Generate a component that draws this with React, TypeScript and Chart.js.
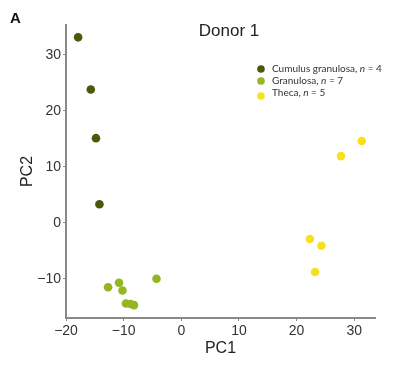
import React, { useEffect, useRef } from "react";
import { Chart, registerables } from "chart.js";

Chart.register(...registerables);

const cumulusPoints = [
  { x: -17.9, y: 33.1 },
  { x: -15.7, y: 23.8 },
  { x: -14.8, y: 15.1 },
  { x: -14.2, y: 3.3 },
];
const granulosaPoints = [
  { x: -12.7, y: -11.5 },
  { x: -10.8, y: -10.7 },
  { x: -10.2, y: -12.1 },
  { x: -9.6, y: -14.4 },
  { x: -8.8, y: -14.5 },
  { x: -8.2, y: -14.7 },
  { x: -4.3, y: -10.0 },
];
const thecaPoints = [
  { x: 31.3, y: 14.6 },
  { x: 27.7, y: 11.9 },
  { x: 22.3, y: -2.9 },
  { x: 24.3, y: -4.1 },
  { x: 23.2, y: -8.8 },
];
const xTicks = [-20, -10, 0, 10, 20, 30];
const yTicks = [-10, 0, 10, 20, 30];
const legendLabels = [
  { pre: "Cumulus granulosa, ", n: "4" },
  { pre: "Granulosa, ", n: "7" },
  { pre: "Theca, ", n: "5" },
];
const colors = ["#4a5a0c", "#93b622", "#f8e01c"];
const titleText = "Donor 1";
const panelLabel = "A";

const fmt = (v: number) => (v < 0 ? "\u2212" + Math.abs(v) : String(v));

const overlay = {
  id: "overlay",
  afterDraw(chart: any) {
    const ctx = chart.ctx;
    ctx.save();
    ctx.fillStyle = "#111";
    ctx.font = "bold 15px 'Liberation Sans', Arial, sans-serif";
    ctx.textBaseline = "middle";
    ctx.textAlign = "left";
    ctx.fillText(panelLabel, 10, 19);
    ctx.font = "17px 'Liberation Sans', Arial, sans-serif";
    ctx.textAlign = "center";
    ctx.fillStyle = "#222";
    ctx.fillText(titleText, 229, 31);
    // legend
    const rows = [69, 81, 93];
    ctx.textAlign = "left";
    legendLabels.forEach((l, i) => {
      const y = rows[i];
      ctx.beginPath();
      ctx.fillStyle = colors[i];
      ctx.arc(261, y + (i === 2 ? 3 : 0), 3.8, 0, Math.PI * 2);
      ctx.fill();
      ctx.fillStyle = "#333";
      let x = 272;
      ctx.font = "10px Lato, 'Open Sans', sans-serif";
      ctx.fillText(l.pre, x, y);
      x += ctx.measureText(l.pre).width;
      ctx.font = "italic 10px Lato, 'Open Sans', sans-serif";
      ctx.fillText("n", x, y);
      x += ctx.measureText("n").width;
      ctx.font = "10px Lato, 'Open Sans', sans-serif";
      ctx.fillText(" = " + l.n, x, y);
    });
    ctx.restore();
  },
};

export default function App() {
  const ref = useRef<HTMLCanvasElement>(null);
  useEffect(() => {
    if (!ref.current) return;
    const tickFont = { family: "'Liberation Sans', Arial, sans-serif", size: 14 };
    const chart = new Chart(ref.current, {
      type: "scatter",
      data: {
        datasets: [
          { label: "Cumulus", data: cumulusPoints, backgroundColor: colors[0], borderColor: colors[0], pointRadius: 4.3, borderWidth: 0 },
          { label: "Granulosa", data: granulosaPoints, backgroundColor: colors[1], borderColor: colors[1], pointRadius: 4.3, borderWidth: 0 },
          { label: "Theca", data: thecaPoints, backgroundColor: colors[2], borderColor: colors[2], pointRadius: 4.3, borderWidth: 0 },
        ],
      },
      options: {
        animation: false,
        responsive: false,
        maintainAspectRatio: false,
        layout: { padding: { top: 25, right: 21, left: 0, bottom: 0 } },
        plugins: { legend: { display: false }, tooltip: { enabled: false } },
        scales: {
          x: {
            type: "linear",
            min: -20,
            max: 33.6,
            afterBuildTicks: (s: any) => { s.ticks = xTicks.map((v) => ({ value: v })); },
            afterFit: (s: any) => { s.height = 47; },
            ticks: { callback: (v: any) => fmt(Number(v)), color: "#333", font: tickFont, padding: 2, maxRotation: 0 },
            grid: { display: true, drawOnChartArea: false, drawTicks: true, tickLength: 3, color: "#888", lineWidth: 1 },
            border: { display: true, color: "#888", width: 2 },
            title: { display: true, text: "PC1", color: "#222", font: { family: "'Liberation Sans', Arial, sans-serif", size: 16 }, padding: { top: 0, bottom: 7 } },
          },
          y: {
            type: "linear",
            min: -17,
            max: 35.3,
            afterBuildTicks: (s: any) => { s.ticks = yTicks.map((v) => ({ value: v })); },
            afterFit: (s: any) => { s.width = 66; },
            ticks: { callback: (v: any) => fmt(Number(v)), color: "#333", font: tickFont, padding: 2 },
            grid: { display: true, drawOnChartArea: false, drawTicks: true, tickLength: 3, color: "#888", lineWidth: 1 },
            border: { display: true, color: "#888", width: 2 },
            title: { display: true, text: "PC2", color: "#222", font: { family: "'Liberation Sans', Arial, sans-serif", size: 16 }, padding: { top: 18, bottom: 0 } },
          },
        },
      },
      plugins: [overlay],
    } as any);
    return () => chart.destroy();
  }, []);
  return (
    <div style={{ position: "fixed", left: 0, top: 0, width: 396, height: 365, background: "#fff" }}>
      <canvas ref={ref} width={396} height={365} style={{ width: 396, height: 365 }} />
    </div>
  );
}
